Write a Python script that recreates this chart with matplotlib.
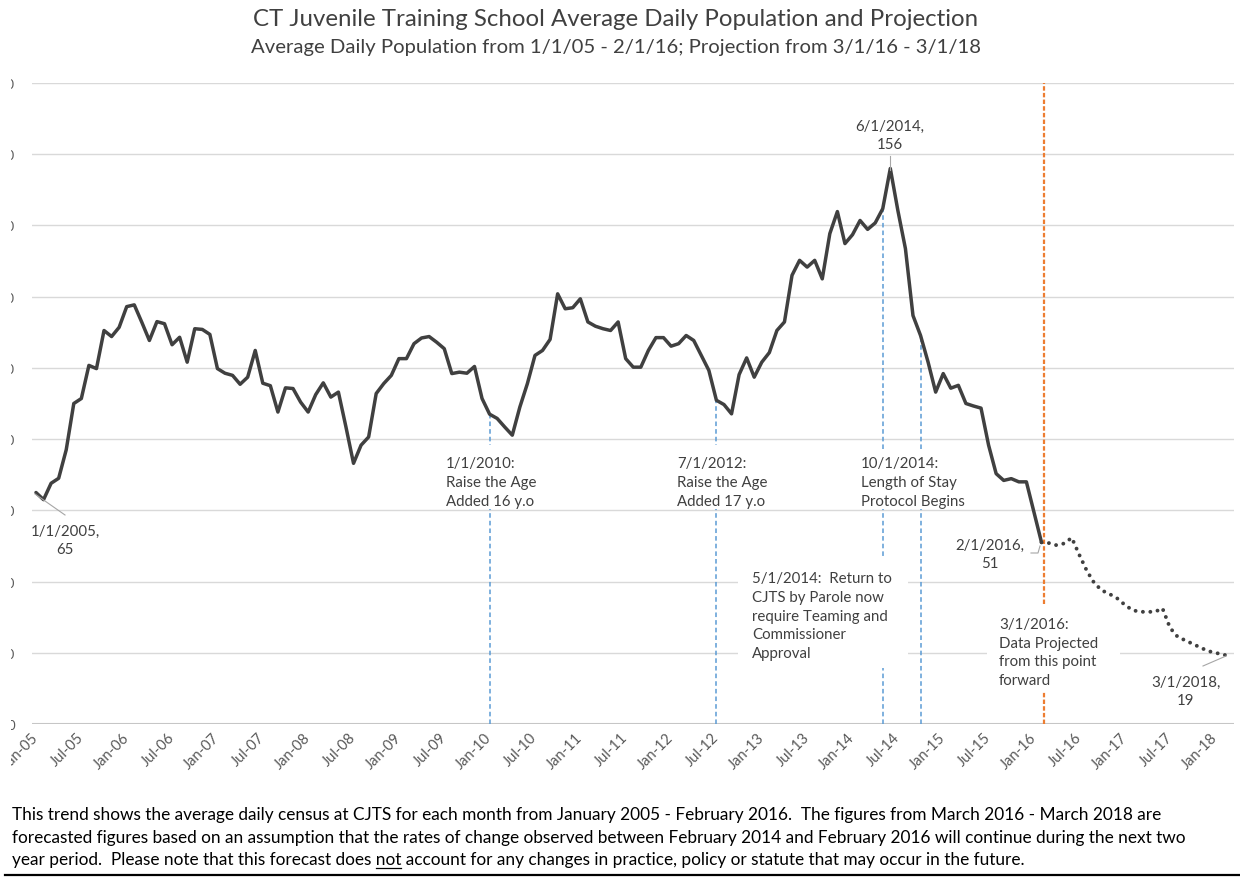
import matplotlib
matplotlib.use("Agg")
import matplotlib.pyplot as plt
from matplotlib.patches import Rectangle
from matplotlib.lines import Line2D

plt.rcParams['font.family'] = ['Lato', 'DejaVu Sans']

# ---------------- data ----------------
# Average daily population, monthly, Jan 2005 (index 0) .. Feb 2016 (index 133)
actual = [65, 63, 67.6, 69, 77, 90, 91.4, 100.7, 99.8, 110.5,
          108.8, 111.4, 117.2, 117.7, 112.8, 107.7, 113, 112.4, 106.5, 108.6,
          101.6, 111, 110.8, 109.4, 99.8, 98.5, 97.9, 95.4, 97.4, 104.9,
          95.7, 95, 87.6, 94.4, 94.2, 90.4, 87.6, 92.5, 95.8, 91.8,
          93.2, 83.4, 73.2, 78.3, 80.6, 92.8, 95.6, 97.9, 102.6, 102.6,
          106.8, 108.4, 108.8, 107.2, 105.4, 98.4, 98.8, 98.5, 100.4, 91.4,
          87, 85.8, 83.4, 81.1, 89, 95.6, 103.5, 104.9, 108, 120.8,
          116.6, 116.9, 119.4, 112.9, 111.7, 111, 110.5, 112.9, 102.6, 100.2,
          100.2, 104.9, 108.5, 108.5, 106.1, 106.8, 109.1, 107.7, 103.5, 99.3,
          90.9, 89.7, 87.1, 98.1, 102.8, 97.4, 101.6, 104.3, 110.5, 112.9,
          126, 130.2, 128.3, 130.2, 125, 137.7, 143.9, 134.9, 137.4, 141.4,
          138.9, 140.7, 144.7, 156, 144.2, 133.5, 114.7, 109.1, 101.6, 93.2,
          98.4, 94.3, 95.1, 90, 89.3, 88.7, 78.3, 70.3, 68.4, 68.9,
          68, 68, 59.5, 51]
# Projection, Mar 2016 (index 134) .. Mar 2018 (index 158)
projection = [50.8, 50.2, 50.7, 52.3, 47.5, 43, 39.5, 37.5, 36.5, 35.3,
              33.5, 32, 31.5, 31.5, 31.5, 32.5, 27, 24.5, 23.5, 22.5,
              21.5, 20.5, 20, 19.5, 19]

tick_labels = ['Jan-05', 'Jul-05', 'Jan-06', 'Jul-06', 'Jan-07', 'Jul-07',
               'Jan-08', 'Jul-08', 'Jan-09', 'Jul-09', 'Jan-10', 'Jul-10',
               'Jan-11', 'Jul-11', 'Jan-12', 'Jul-12', 'Jan-13', 'Jul-13',
               'Jan-14', 'Jul-14', 'Jan-15', 'Jul-15', 'Jan-16', 'Jul-16',
               'Jan-17', 'Jul-17', 'Jan-18']
tick_step = 6
y_ticks = [0, 20, 40, 60, 80, 100, 120, 140, 160, 180]

event_months = [60, 90, 112, 117]
event_texts = ["1/1/2010:\nRaise the Age\nAdded 16 y.o",
               "7/1/2012:\nRaise the Age\nAdded 17 y.o",
               "5/1/2014:  Return to\nCJTS by Parole now\nrequire Teaming and\nCommissioner\nApproval",
               "10/1/2014:\nLength of Stay\nProtocol Begins"]
projection_start_month = 133.3
projection_text = "3/1/2016:\nData Projected\nfrom this point\nforward"

point_months = [0, 113, 133, 158]
point_dates = ["1/1/2005", "6/1/2014", "2/1/2016", "3/1/2018"]

title = "CT Juvenile Training School Average Daily Population and Projection"
subtitle = "Average Daily Population from 1/1/05 - 2/1/16; Projection from 3/1/16 - 3/1/18"
footer1 = ("This trend shows the average daily census at CJTS for each month from January 2005 - "
           "February 2016.  The figures from March 2016 - March 2018 are")
footer2 = ("forecasted figures based on an assumption that the rates of change observed between "
           "February 2014 and February 2016 will continue during the next two")
footer3_pre = "year period.  Please note that this forecast does "
footer3_word = "not"
footer3_post = " account for any changes in practice, policy or statute that may occur in the future."

# ---------------- layout helpers ----------------
W, H = 1240, 878
fig = plt.figure(figsize=(W / 100, H / 100), dpi=100)
fig.patch.set_facecolor('white')


def F(x, y):
    return (x / W, 1 - y / H)


TXT = '#404040'

ax_l, ax_r, ax_t, ax_b = 32.2, 1234.3, 84, 725
ax = fig.add_axes([ax_l / W, 1 - ax_b / H, (ax_r - ax_l) / W, (ax_b - ax_t) / H])
n_total = len(actual) + len(projection)
ax.set_xlim(-0.5, n_total - 0.5)
ax.set_ylim(0, 180)
ax.set_yticks(y_ticks)
ax.set_yticklabels([str(v) for v in y_ticks])
ax.grid(axis='y', color='#d9d9d9', lw=1.0)
ax.grid(axis='x', visible=False)
ax.set_axisbelow(True)
for s in ax.spines.values():
    s.set_visible(False)
ax.axhline(0, color='#c6c6c6', lw=1.5, zorder=1)
ax.tick_params(length=0)
ax.tick_params(axis='y', pad=12.4, labelsize=9.5, labelcolor='#595959')
ax.set_xticks(list(range(0, n_total, tick_step)))
ax.set_xticklabels(tick_labels, rotation=45, ha='right', va='center',
                   rotation_mode='anchor', fontsize=10.5, color='#595959')
ax.tick_params(axis='x', pad=8)

months_actual = list(range(len(actual)))
months_proj = list(range(len(actual) - 1, n_total))

# event lines
for m in event_months:
    ax.plot([m, m], [0, actual[m]], color='#5B9BD5', lw=1.1, ls=(0, (3, 2)), zorder=2)
ax.plot([projection_start_month] * 2, [0, 180], color='#ED7D31', lw=1.6,
        ls=(0, (2, 1)), zorder=2)

# series
ax.plot(months_actual, actual, color='#404040', lw=2.5, solid_joinstyle='round',
        solid_capstyle='round', zorder=4)
ax.plot(months_proj, [actual[-1]] + projection, color='#404040', lw=2.8,
        ls=(0, (0.01, 1.9)), dash_capstyle='round', zorder=4)

# ---------------- text boxes (white fill) ----------------
boxes = [(440, 446, 545, 510), (670, 446, 775, 510), (738, 557, 908, 669),
         (855, 450, 972, 510), (987, 605, 1120, 692)]
for (x0, y0, x1, y1) in boxes:
    fig.add_artist(Rectangle(F(x0, y1), (x1 - x0) / W, (y1 - y0) / H,
                             transform=fig.transFigure, facecolor='white',
                             edgecolor='none', zorder=2))

ANN = 10.8
event_pos = [(446, 483), (677, 483), (752, 616.5), (861, 483)]
for (x, y), t in zip(event_pos, event_texts):
    fig.text(*F(x, y), t, ha='left', va='center', fontsize=ANN, color=TXT,
             linespacing=1.42, zorder=3)
fig.text(*F(999, 653), projection_text, ha='left', va='center', fontsize=ANN,
         color=TXT, linespacing=1.42, zorder=3)

# point data labels
all_values = actual + projection
label_pos = [(65, 541), (890, 136), (990, 555), (1186, 692)]
for m, d, (x, y) in zip(point_months, point_dates, label_pos):
    fig.text(*F(x, y), f"{d},\n{all_values[m]:.0f}", ha='center', va='center',
             multialignment='center', fontsize=ANN, color=TXT, linespacing=1.42, zorder=3)

leaders = [([35, 65], [495, 516]), ([890, 890], [157, 171]),
           ([1031, 1038, 1040], [554, 554, 547]), ([1203, 1226], [667, 657])]
for xs, ys in leaders:
    fig.add_artist(Line2D([x / W for x in xs], [1 - y / H for y in ys],
                          transform=fig.transFigure, color='#a6a6a6', lw=0.8, zorder=3))

# left cut edge of original image
fig.add_artist(Rectangle((0, 1 - 790 / H), 10.5 / W, (790 - 70) / H,
                         transform=fig.transFigure, facecolor='white',
                         edgecolor='none', zorder=5))

# ---------------- titles ----------------
fig.text(*F(616, 20), title, ha='center', va='center', fontsize=17.3, color=TXT)
fig.text(*F(616, 48), subtitle, ha='center', va='center', fontsize=14.6, color=TXT)

# ---------------- footer ----------------
FS = 12.4
fig.text(*F(12, 815), footer1, ha='left', va='center', fontsize=FS, color='#000000')
fig.text(*F(12, 838), footer2, ha='left', va='center', fontsize=FS, color='#000000')
fig.text(*F(12, 860), footer3_pre + footer3_word + footer3_post, ha='left', va='center',
         fontsize=FS, color='#000000')

fig.canvas.draw()
r = fig.canvas.get_renderer()
tmp1 = fig.text(0, 0, (footer3_pre + footer3_word).rstrip(), fontsize=FS)
tmp2 = fig.text(0, 0, footer3_word, fontsize=FS)
w1 = tmp1.get_window_extent(r).width
w2 = tmp2.get_window_extent(r).width
tmp1.remove()
tmp2.remove()
ux1 = 12 + w1
ux0 = ux1 - w2
fig.add_artist(Line2D([ux0 / W, ux1 / W], [1 - 869 / H] * 2, transform=fig.transFigure,
                      color='#000000', lw=0.9))
fig.add_artist(Line2D([5 / W, 1240 / W], [1 - 876 / H] * 2, transform=fig.transFigure,
                      color='#000000', lw=1.6))

fig.savefig("out.png", dpi=100, facecolor='white')
